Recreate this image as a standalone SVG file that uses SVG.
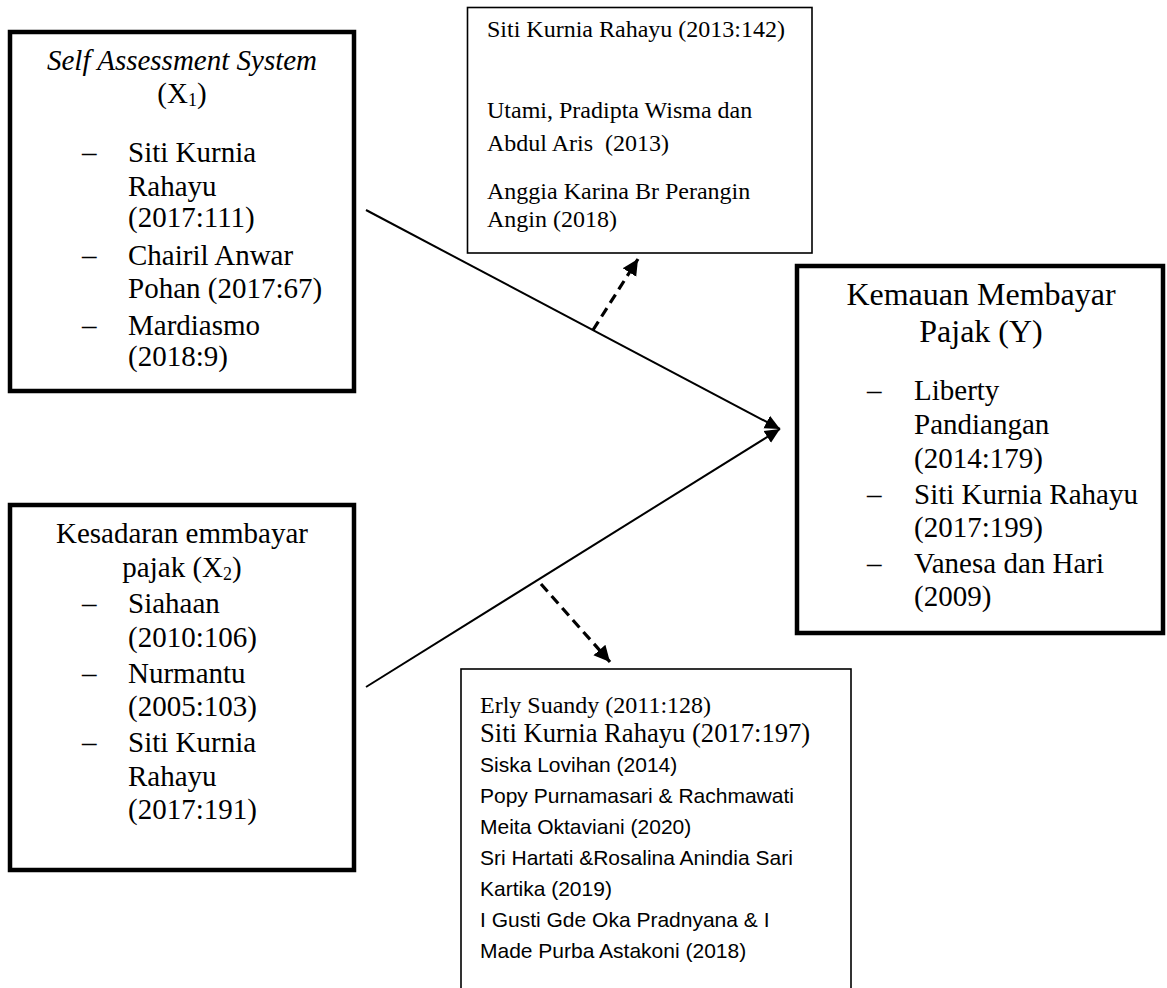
<svg xmlns="http://www.w3.org/2000/svg" width="1167" height="988" viewBox="0 0 1167 988">
<style>
.thick{fill:#fff;stroke:#000;stroke-width:4.5}
.thin{fill:#fff;stroke:#000;stroke-width:1.6}
.t{font-family:"Liberation Serif","Times New Roman",serif;fill:#000}
.s29{font-size:29px}
.s32{font-size:32px}
.s24{font-size:24px}
.c{font-family:"Liberation Sans",Arial,sans-serif;font-size:21px;fill:#000}
.line{stroke:#000;stroke-width:2;fill:none}
.dash{stroke:#000;stroke-width:3.2;fill:none;stroke-dasharray:10 6}
</style>
<defs>
<marker id="ah" markerUnits="userSpaceOnUse" markerWidth="16" markerHeight="16" refX="15" refY="8" orient="auto">
<path d="M0,1 L15,8 L0,15 Z" fill="#000"/>
</marker>
<marker id="ahd" markerUnits="userSpaceOnUse" markerWidth="18" markerHeight="18" refX="16" refY="9" orient="auto">
<path d="M0,1 L16,9 L0,17 Z" fill="#000"/>
</marker>
</defs>

<g id="x1">
<rect class="thick" x="10" y="32" width="344" height="359"/>
<text class="t s29" x="182" y="70" text-anchor="middle" font-style="italic">Self Assessment System</text>
<text class="t s29" x="182" y="103" text-anchor="middle">(X<tspan font-size="18" dy="3">1</tspan><tspan dy="-3">)</tspan></text>
<text class="t s29" x="82" y="162">–</text>
<text class="t s29" x="128" y="162">Siti Kurnia</text>
<text class="t s29" x="128" y="196">Rahayu</text>
<text class="t s29" x="128" y="227">(2017:111)</text>
<text class="t s29" x="82" y="265">–</text>
<text class="t s29" x="128" y="265">Chairil Anwar</text>
<text class="t s29" x="128" y="298">Pohan (2017:67)</text>
<text class="t s29" x="82" y="335">–</text>
<text class="t s29" x="128" y="335">Mardiasmo</text>
<text class="t s29" x="128" y="366">(2018:9)</text>
</g>

<g id="x2">
<rect class="thick" x="10" y="505" width="344" height="365"/>
<text class="t s29" x="182" y="543" text-anchor="middle">Kesadaran emmbayar</text>
<text class="t s29" x="182" y="577" text-anchor="middle">pajak (X<tspan font-size="18" dy="3">2</tspan><tspan dy="-3">)</tspan></text>
<text class="t s29" x="82" y="613">–</text>
<text class="t s29" x="128" y="613">Siahaan</text>
<text class="t s29" x="128" y="647">(2010:106)</text>
<text class="t s29" x="82" y="683">–</text>
<text class="t s29" x="128" y="683">Nurmantu</text>
<text class="t s29" x="128" y="716">(2005:103)</text>
<text class="t s29" x="82" y="752">–</text>
<text class="t s29" x="128" y="752">Siti Kurnia</text>
<text class="t s29" x="128" y="786">Rahayu</text>
<text class="t s29" x="128" y="819">(2017:191)</text>
</g>

<g id="y">
<rect class="thick" x="797" y="266" width="366" height="367"/>
<text class="t s32" x="981" y="305" text-anchor="middle">Kemauan Membayar</text>
<text class="t s32" x="981" y="342" text-anchor="middle">Pajak (Y)</text>
<text class="t s29" x="867" y="400">–</text>
<text class="t s29" x="914" y="400">Liberty</text>
<text class="t s29" x="914" y="434">Pandiangan</text>
<text class="t s29" x="914" y="468">(2014:179)</text>
<text class="t s29" x="867" y="504">–</text>
<text class="t s29" x="914" y="504">Siti Kurnia Rahayu</text>
<text class="t s29" x="914" y="537">(2017:199)</text>
<text class="t s29" x="867" y="573">–</text>
<text class="t s29" x="914" y="573">Vanesa dan Hari</text>
<text class="t s29" x="914" y="606">(2009)</text>
</g>

<g id="ref1">
<rect class="thin" x="467.5" y="7.5" width="344.5" height="245.5"/>
<text class="t s24" x="487" y="37">Siti Kurnia Rahayu (2013:142)</text>
<text class="t s24" x="487" y="118">Utami, Pradipta Wisma dan</text>
<text class="t s24" x="487" y="151" xml:space="preserve">Abdul Aris  (2013)</text>
<text class="t s24" x="487" y="199">Anggia Karina Br Perangin</text>
<text class="t s24" x="487" y="227">Angin (2018)</text>
</g>

<g id="ref2">
<rect class="thin" x="461" y="669" width="390" height="340"/>
<text class="t s24" x="480" y="713">Erly Suandy (2011:128)</text>
<text class="t" font-size="26.6" x="480" y="742">Siti Kurnia Rahayu (2017:197)</text>
<text class="c" x="480" y="772">Siska Lovihan (2014)</text>
<text class="c" x="480" y="803">Popy Purnamasari &amp; Rachmawati</text>
<text class="c" x="480" y="834">Meita Oktaviani (2020)</text>
<text class="c" x="480" y="865">Sri Hartati &amp;Rosalina Anindia Sari</text>
<text class="c" x="480" y="896">Kartika (2019)</text>
<text class="c" x="480" y="927">I Gusti Gde Oka Pradnyana &amp; I</text>
<text class="c" x="480" y="958">Made Purba Astakoni (2018)</text>
</g>

<g id="connectors">
<line class="line" x1="366" y1="210" x2="780" y2="429" marker-end="url(#ah)"/>
<line class="line" x1="366" y1="687" x2="780" y2="429" marker-end="url(#ah)"/>
<line class="dash" x1="593" y1="330" x2="638" y2="259" marker-end="url(#ahd)"/>
<line class="dash" x1="541" y1="584" x2="610" y2="662" marker-end="url(#ahd)"/>
</g>
</svg>
